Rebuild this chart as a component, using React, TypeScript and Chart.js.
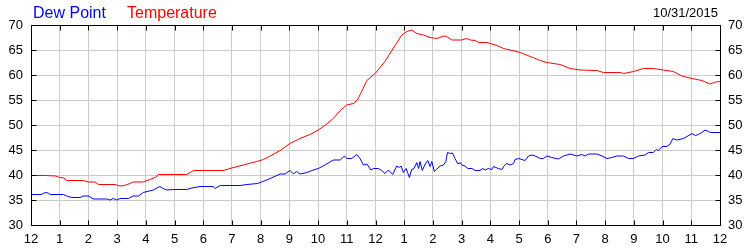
import React, { useEffect, useRef } from "react";
import { Chart, registerables } from "chart.js";

Chart.register(...registerables);

const hourLabels = ["12","1","2","3","4","5","6","7","8","9","10","11","12","1","2","3","4","5","6","7","8","9","10","11","12"];
const yTicks = [30, 35, 40, 45, 50, 55, 60, 65, 70];
const dateLabel = "10/31/2015";
const seriesNames = ["Dew Point", "Temperature"];

const tempHours = [0,0.5,0.85,1.0,1.15,1.24,1.82,2.0,2.23,2.35,2.93,3.1,3.25,3.45,3.55,3.9,4.15,4.35,4.44,5.42,5.55,5.66,6.7,6.93,7.4,7.86,8.1,8.33,8.68,9.02,9.37,9.72,10.01,10.3,10.53,10.77,11.0,11.23,11.37,11.5,11.7,11.99,12.33,12.68,12.92,13.09,13.26,13.44,13.67,13.9,14.14,14.37,14.48,14.66,15.0,15.18,15.3,15.47,15.59,15.88,16.23,16.46,16.69,17.04,17.39,17.74,17.97,18.43,18.78,19.13,19.71,19.94,20.52,20.64,20.99,21.34,21.68,22.03,22.38,22.67,23.02,23.37,23.66,23.85,24.0];
const tempValues = [39.9,39.9,39.8,39.5,39.4,38.9,38.9,38.6,38.6,38.1,38.1,37.8,37.9,38.3,38.6,38.6,39.1,39.6,40.1,40.1,40.5,40.9,40.9,41.3,42.0,42.7,43.1,43.8,44.9,46.3,47.3,48.1,49.0,50.2,51.3,52.9,54.0,54.3,55.0,56.5,58.9,60.3,62.7,65.9,68.0,68.7,69.0,68.3,68.0,67.5,67.3,67.8,67.7,67.0,67.0,67.3,67.0,66.9,66.5,66.5,65.9,65.3,65.0,64.5,63.7,62.9,62.5,62.1,61.3,61.0,60.9,60.5,60.5,60.3,60.7,61.3,61.3,61.0,60.7,59.8,59.3,58.9,58.2,58.6,58.7];

const dewHours = [0,0.37,0.49,0.6,0.66,1.13,1.24,1.42,1.71,1.82,2.0,2.17,2.64,2.75,2.87,2.99,3.1,3.39,3.56,3.74,3.91,4.26,4.49,4.6,4.73,4.96,5.42,5.6,5.89,6.35,6.41,6.59,7.28,7.52,7.9,8.33,8.68,8.85,9.02,9.14,9.25,9.37,9.61,9.78,10.01,10.24,10.53,10.77,10.92,11.0,11.17,11.35,11.46,11.58,11.7,11.84,11.93,12.1,12.22,12.33,12.45,12.6,12.74,12.83,12.89,12.97,13.07,13.18,13.26,13.34,13.44,13.5,13.55,13.63,13.73,13.82,13.9,13.96,14.05,14.14,14.25,14.37,14.45,14.51,14.6,14.68,14.77,14.87,14.95,15.0,15.12,15.22,15.36,15.47,15.64,15.74,15.82,15.93,16.05,16.11,16.28,16.4,16.49,16.57,16.69,16.81,16.86,16.98,17.1,17.21,17.33,17.45,17.56,17.74,17.85,17.97,18.14,18.37,18.55,18.78,19.01,19.19,19.3,19.42,19.71,19.89,20.06,20.23,20.41,20.64,20.81,20.99,21.16,21.39,21.51,21.68,21.78,21.86,21.98,22.15,22.26,22.36,22.5,22.73,22.85,23.02,23.14,23.25,23.37,23.48,23.6,23.66,24.0];
const dewValues = [36.1,36.1,36.5,36.4,36.1,36.1,35.8,35.5,35.5,35.8,35.8,35.2,35.2,35.0,35.3,35.0,35.3,35.3,35.8,35.8,36.5,37.0,37.7,37.3,37.0,37.1,37.1,37.4,37.7,37.7,37.3,37.9,37.9,38.1,38.3,39.3,40.2,40.2,40.9,40.2,40.7,40.2,40.5,40.9,41.3,42.0,43.0,43.0,43.8,43.3,43.3,44.1,43.3,42.0,42.2,41.0,41.3,41.3,40.9,40.3,41.0,40.1,41.8,41.5,41.8,40.5,41.3,39.5,41.1,41.3,42.5,41.3,42.7,40.9,42.2,42.9,41.7,42.7,40.7,41.2,41.8,42.0,42.7,44.5,44.3,44.4,43.3,42.2,42.5,42.0,41.8,41.3,41.3,40.9,40.9,41.3,41.0,41.3,41.1,41.7,41.3,41.1,41.9,42.3,42.0,42.3,43.1,43.3,43.1,42.9,43.8,44.0,43.8,43.3,43.3,43.8,43.5,43.2,43.8,44.2,43.8,44.1,43.8,44.2,44.2,43.8,43.3,43.5,43.8,43.8,43.3,43.3,43.8,44.0,44.5,44.5,45.1,44.9,45.7,45.7,46.2,47.3,47.0,47.3,47.7,48.3,47.9,48.1,48.5,49.0,48.7,48.5,48.5];

const FONT = "'Liberation Sans', Arial, sans-serif";

const framePlugin = {
  id: "frame",
  afterDatasetsDraw(chart: any) {
    const { ctx, chartArea, scales } = chart;
    const { left, right, top, bottom } = chartArea;
    const a = (v: number) => Math.round(v) + 0.5;
    ctx.save();
    ctx.strokeStyle = "#000";
    ctx.lineWidth = 1;
    ctx.beginPath();
    ctx.rect(a(left), a(top), Math.round(right) - Math.round(left), Math.round(bottom) - Math.round(top));
    const tl = 5;
    for (let i = 0; i < hourLabels.length; i++) {
      const x = a(scales.x.getPixelForValue(i));
      ctx.moveTo(x, a(top));
      ctx.lineTo(x, a(top) + tl);
      ctx.moveTo(x, a(bottom));
      ctx.lineTo(x, a(bottom) - tl);
    }
    for (const t of yTicks) {
      const y = a(scales.y.getPixelForValue(t));
      ctx.moveTo(a(left), y);
      ctx.lineTo(a(left) + tl, y);
      ctx.moveTo(a(right), y);
      ctx.lineTo(a(right) - tl, y);
    }
    ctx.stroke();
    ctx.restore();
  },
  afterDraw(chart: any) {
    const { ctx } = chart;
    ctx.save();
    ctx.textBaseline = "alphabetic";
    ctx.font = `16px ${FONT}`;
    ctx.textAlign = "left";
    ctx.fillStyle = "#0000ff";
    ctx.fillText(seriesNames[0], 33, 18);
    ctx.fillStyle = "#ff0000";
    ctx.fillText(seriesNames[1], 127, 18);
    ctx.font = `13px ${FONT}`;
    ctx.fillStyle = "#000";
    ctx.textAlign = "right";
    ctx.fillText(dateLabel, 718, 17);
    ctx.restore();
  },
};

export default function App() {
  const ref = useRef<HTMLCanvasElement>(null);
  useEffect(() => {
    document.body.style.margin = "0";
    const canvas = ref.current;
    if (!canvas) return;
    const chart = new Chart(canvas, {
      type: "line",
      data: {
        datasets: [
          {
            label: seriesNames[0],
            data: dewHours.map((h, i) => ({ x: h, y: dewValues[i] })),
            borderColor: "#0000ff",
            backgroundColor: "#0000ff",
            borderWidth: 1,
            pointRadius: 0,
            tension: 0,
          },
          {
            label: seriesNames[1],
            data: tempHours.map((h, i) => ({ x: h, y: tempValues[i] })),
            borderColor: "#ff0000",
            backgroundColor: "#ff0000",
            borderWidth: 1,
            pointRadius: 0,
            tension: 0,
          },
        ],
      },
      options: {
        animation: false,
        responsive: false,
        maintainAspectRatio: false,
        layout: { padding: { top: 25, left: 0, right: 0, bottom: 0 } },
        plugins: { legend: { display: false }, tooltip: { enabled: false }, title: { display: false } },
        scales: {
          x: {
            type: "linear",
            min: 0,
            max: 24,
            afterFit: (s: any) => { s.height = 25; },
            afterBuildTicks: (s: any) => { s.ticks = hourLabels.map((_, i) => ({ value: i })); },
            ticks: {
              autoSkip: false,
              maxRotation: 0,
              padding: 7,
              color: "#000",
              font: { family: FONT, size: 13 },
              callback: (v: any) => hourLabels[Math.round(Number(v))],
            },
            grid: { color: "#cccccc", drawTicks: false },
            border: { display: false },
          },
          y: {
            position: "left",
            min: 30,
            max: 70,
            afterFit: (s: any) => { s.width = 31; },
            afterBuildTicks: (s: any) => { s.ticks = yTicks.map((v) => ({ value: v })); },
            ticks: { padding: 8, color: "#000", font: { family: FONT, size: 13 } },
            grid: { color: "#cccccc", drawTicks: false },
            border: { display: false },
          },
          y2: {
            position: "right",
            min: 30,
            max: 70,
            afterFit: (s: any) => { s.width = 30; },
            afterBuildTicks: (s: any) => { s.ticks = yTicks.map((v) => ({ value: v })); },
            ticks: { padding: 8, color: "#000", font: { family: FONT, size: 13 } },
            grid: { display: false, drawTicks: false },
            border: { display: false },
          },
        },
      },
      plugins: [framePlugin],
    } as any);
    return () => chart.destroy();
  }, []);
  return (
    <div style={{ width: 750, height: 250, background: "#fff" }}>
      <canvas ref={ref} width={750} height={250} style={{ display: "block" }} />
    </div>
  );
}
